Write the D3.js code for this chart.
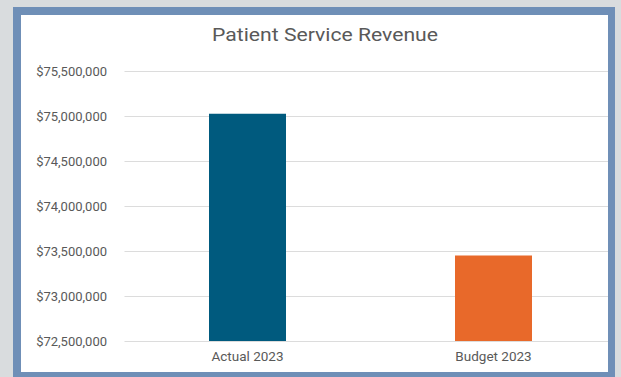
<!DOCTYPE html>
<html>
<head>
<meta charset="utf-8">
<script src="https://cdn.jsdelivr.net/npm/d3@7"></script>
<style>
  html, body { margin: 0; padding: 0; background: #d9dcde; }
  svg { display: block; }
</style>
</head>
<body>
<svg id="chart" width="621" height="377"></svg>
<script>
// Chart data
const categories = ["Actual 2023", "Budget 2023"];
const revenue = [75025000, 73450000];
const barColors = ["#005a7e", "#e8692a"];
const yTicks = [72500000, 73000000, 73500000, 74000000, 74500000, 75000000, 75500000];
const title = "Patient Service Revenue";

const W = 621, H = 377;
const svg = d3.select("#chart");
const font = "Roboto, 'Noto Sans', sans-serif";

// Page background, framed card
svg.append("rect").attr("width", W).attr("height", H).attr("fill", "#d9dcde");
svg.append("rect").attr("x", 13).attr("y", 7).attr("width", 602).attr("height", 375).attr("fill", "#6f8fb7");
svg.append("rect").attr("x", 21).attr("y", 15).attr("width", 587).attr("height", 357).attr("fill", "#ffffff");

svg.append("clipPath").attr("id", "card")
  .append("rect").attr("x", 21).attr("y", 15).attr("width", 587).attr("height", 357);

const plot = { left: 124.5, right: 616.5, top: 71, bottom: 341 };

const x = d3.scaleBand()
  .domain(categories)
  .range([plot.left, plot.right])
  .paddingInner(0.687)
  .paddingOuter(0.3435);

const y = d3.scaleLinear()
  .domain([72500000, 75500000])
  .range([plot.bottom, plot.top]);

const g = svg.append("g").attr("clip-path", "url(#card)");

// Horizontal gridlines
g.selectAll("line.grid")
  .data(yTicks)
  .join("line")
  .attr("class", "grid")
  .attr("x1", plot.left)
  .attr("x2", plot.right)
  .attr("y1", d => Math.round(y(d)) + 0.5)
  .attr("y2", d => Math.round(y(d)) + 0.5)
  .attr("stroke", "#dcdcdc")
  .attr("stroke-width", 1.2);

// Bars
g.selectAll("rect.bar")
  .data(categories)
  .join("rect")
  .attr("class", "bar")
  .attr("x", d => x(d))
  .attr("width", x.bandwidth())
  .attr("y", (d, i) => y(revenue[i]))
  .attr("height", (d, i) => y(72500000) - y(revenue[i]))
  .attr("fill", (d, i) => barColors[i]);

// Y axis labels
const fmt = d3.format("$,.0f");
const yAxis = d3.axisLeft(y).tickValues(yTicks).tickFormat(fmt).tickSize(0).tickPadding(0);
svg.append("g")
  .attr("transform", "translate(107,0)")
  .call(yAxis)
  .call(s => s.select(".domain").remove())
  .call(s => s.selectAll("text")
    .attr("fill", "#595959")
    .style("font-family", font)
    .style("font-size", "13px"));

// X axis labels
const xAxis = d3.axisBottom(x).tickSize(0).tickPadding(0);
svg.append("g")
  .attr("transform", `translate(0,${plot.bottom + 10})`)
  .call(xAxis)
  .call(s => s.select(".domain").remove())
  .call(s => s.selectAll("text")
    .attr("fill", "#595959")
    .style("font-family", font)
    .style("font-size", "13.5px"));

// Title
svg.append("text")
  .attr("x", 325)
  .attr("y", 41)
  .attr("text-anchor", "middle")
  .attr("fill", "#595959")
  .style("font-family", font)
  .style("font-size", "19px")
  .attr("textLength", 226)
  .attr("lengthAdjust", "spacingAndGlyphs")
  .text(title);
</script>
</body>
</html>
